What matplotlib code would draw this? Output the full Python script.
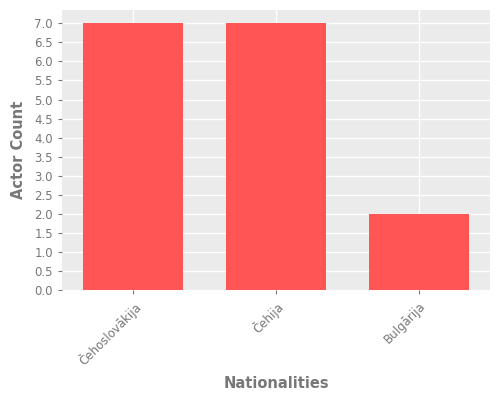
import numpy as np
import matplotlib
matplotlib.use("Agg")
import matplotlib.pyplot as plt

nationalities = ["Čehoslovākija", "Čehija", "Bulgārija"]
actor_counts = [7, 7, 2]

fig = plt.figure(figsize=(5, 4), dpi=100)
ax = fig.add_axes([0.124, 0.275, 0.856, 0.70])
ax.set_facecolor("#EBEBEB")
ax.bar(range(len(nationalities)), actor_counts, width=0.7, color="#FF5555", zorder=3)
ax.set_xlim(-0.5, 2.5)
ax.set_ylim(0, 7.35)
ax.set_yticks(np.arange(0, 7.01, 0.5))
ax.set_yticklabels([f"{v:.1f}" for v in np.arange(0, 7.01, 0.5)])
ax.set_xticks(range(len(nationalities)))
ax.set_xticklabels(nationalities, rotation=45, ha="right", rotation_mode="anchor")
ax.grid(True, color="white", linewidth=1, zorder=0)
for s in ax.spines.values():
    s.set_visible(False)
ax.tick_params(colors="#777777", labelsize=8.5, length=3)
ax.set_xlabel("Nationalities", color="#777777", fontsize=10.5, fontweight="bold", labelpad=6)
ax.set_ylabel("Actor Count", color="#777777", fontsize=10.5, fontweight="bold", labelpad=6)
fig.savefig("out.png")
